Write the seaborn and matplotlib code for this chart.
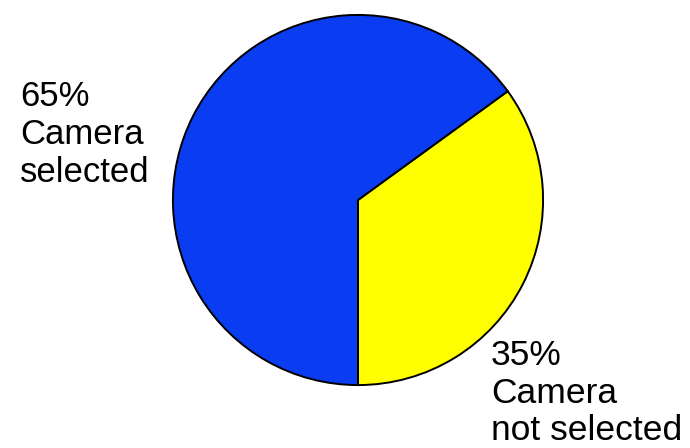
import matplotlib
matplotlib.use('Agg')
import matplotlib.pyplot as plt
import seaborn as sns

# Data
labels = ["65%\nCamera\nselected", "35%\nCamera\nnot selected"]
shares = [35, 65]  # yellow (not selected), blue (selected)
colors = ['#FFFF00', '#0A3CF2']

sns.set_theme(style='white')
plt.rcParams['font.family'] = ['Liberation Sans', 'DejaVu Sans']

fig = plt.figure(figsize=(6.9, 4.48), dpi=100)
ax = fig.add_axes([172/690, 62/448, 372/690, 372/448])
ax.pie(shares, colors=colors, startangle=-90, counterclock=True,
       wedgeprops=dict(edgecolor='black', linewidth=1.4))
ax.set_xlim(-1.005, 1.005); ax.set_ylim(-1.005, 1.005)
ax.set_aspect('equal')
ax.axis('off')

# va='baseline' pins the last line's baseline
fig.text(20/690, 266/448, labels[0], fontsize=25, ha='left', va='baseline',
         linespacing=1.2, color='black')
fig.text(491/690, 8/448, labels[1], fontsize=25.5, ha='left', va='baseline',
         linespacing=1.17, color='black')

fig.savefig('out.png', dpi=100, facecolor='white')
